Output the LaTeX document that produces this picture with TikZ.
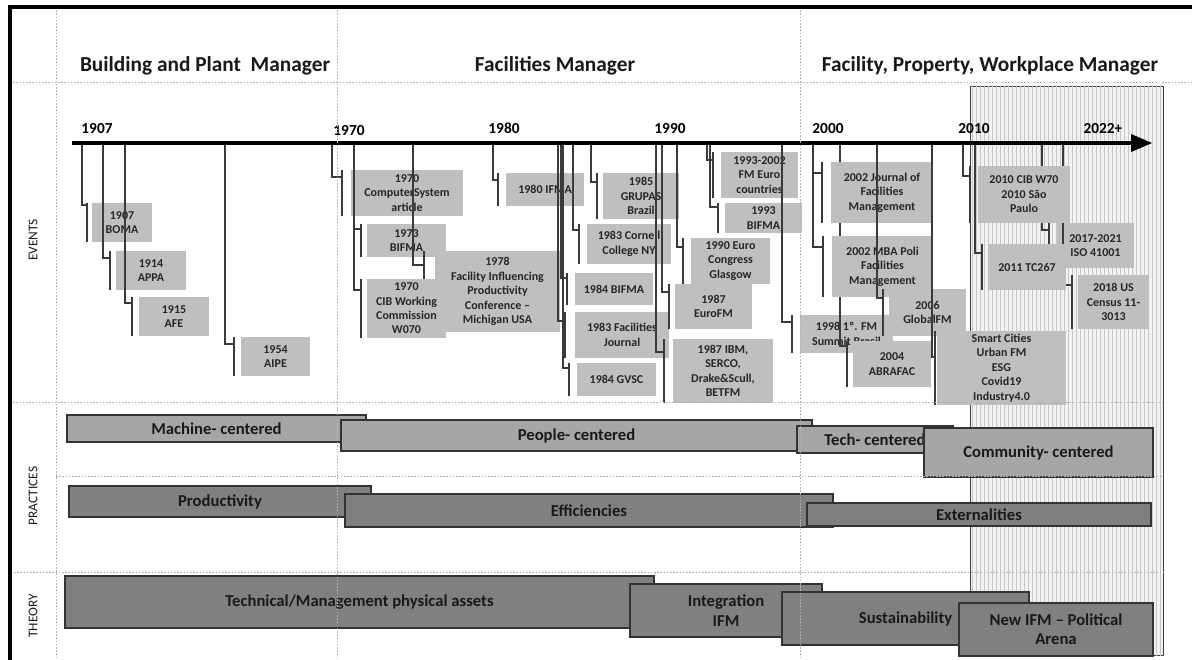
\documentclass[tikz,border=0pt]{standalone}
\usepackage{fontspec}
\setmainfont{Carlito}
\usetikzlibrary{patterns}
\definecolor{evbox}{HTML}{BFBFBF}
\definecolor{pracA}{HTML}{A6A6A6}
\definecolor{pracB}{HTML}{808080}
\definecolor{txt}{HTML}{262626}
\definecolor{conn}{HTML}{3A3A3A}
\tikzset{
 evt/.style={fill=evbox, inner sep=0pt, outer sep=0pt, text=txt, align=center, font=\bfseries\fontsize{9}{10.8}\selectfont},
 cline/.style={draw=conn, line width=0.9pt},
 pbox/.style={draw=black!80, line width=0.8pt, inner sep=0pt, outer sep=0pt, align=center, text=black!90, font=\bfseries\fontsize{12.5}{14.5}\selectfont},
 prA/.style={pbox, fill=pracA},
 prB/.style={pbox, fill=pracB},
 gridl/.style={draw=gray!60, line width=0.5pt, dash pattern=on 1.2pt off 1.2pt},
 hdr/.style={font=\bfseries\fontsize{16}{19}\selectfont, anchor=base, text=black!90, inner sep=0pt},
 yr/.style={font=\bfseries\fontsize{11.5}{13}\selectfont, anchor=base, inner sep=0pt},
 side/.style={font=\fontsize{10}{12}\selectfont, rotate=90, text=black!90},
}
% name, x1, y1, x2, y2, stem x, tick y, bar x, text
\newcommand\mkevt[9]{%
  \node[evt, minimum width={(#4-#2)*0.75pt}, minimum height={(#5-#3)*0.75pt}] (#1) at ({(#2+#4)/2},{(#3+#5)/2}) {#9};
  \coordinate (#1-t) at (#6,143);
  \coordinate (#1-k) at (#8,#7);
  \draw[cline] (#1-t) |- (#1-k);
  \draw[cline] (#1-k |- #1.north) -- (#1-k |- #1.south);
}
% name, style, x1, y1, x2, y2, text
\newcommand\mkphase[7]{%
  \node[#2, minimum width={(#5-#3)*0.75pt}, minimum height={(#6-#4)*0.75pt}] (#1) at ({(#3+#5)/2},{(#4+#6)/2}) {#7};
}
\begin{document}
\begin{tikzpicture}[x=0.75pt, y=-0.75pt]
\useasboundingbox (0,0) rectangle (1192,660);
% recent period shading
\path[fill=black!5, draw=black!75, line width=0.6pt] (970,86) rectangle (1163,655);
\path[pattern=vertical lines, pattern color=black!22] (970,86) rectangle (1163,655);
% events
\mkevt{boma}{92}{203}{152}{242}{82}{205}{87}{1907\\BOMA}
\mkevt{appa}{116}{251}{186}{290}{103}{258}{110}{1914\\APPA}
\mkevt{afe}{139}{297}{209}{336}{125}{303}{132}{1915\\AFE}
\mkevt{aipe}{241}{337}{310}{376}{225}{344}{234}{1954\\AIPE}
\mkevt{comp}{351}{170}{463}{216}{332}{177}{342}{1970\\ComputerSystem\\article}
\mkevt{bifmaA}{367}{224}{446}{257}{354}{229}{361}{1973\\BIFMA}
\mkevt{mich}{435}{251}{560}{332}{413}{265}{424}{1978\\Facility Influencing\\Productivity\\Conference --\\Michigan USA}
\mkevt{cib}{367}{279}{446}{338}{354}{290}{361}{1970\\CIB Working\\Commission\\W070}
\mkevt{ifma}{506}{173}{584}{206}{493}{180}{498}{1980 IFMA}
\mkevt{grupas}{603}{173}{679}{219}{591}{182}{597}{1985\\GRUPAS\\Brazil}
\mkevt{cornell}{587}{224}{671}{264}{573}{230}{579}{1983 Cornell\\College NY}
\mkevt{bifmaB}{575}{273}{653}{305}{561}{278}{567}{1984 BIFMA}
\mkevt{facj}{575}{312}{669}{358}{558}{321}{565}{1983 Facilities\\Journal}
\mkevt{gvsc}{577}{363}{656}{396}{563}{368}{569}{1984 GVSC}
\mkevt{ibm}{673}{339}{773}{403}{656}{352}{664}{1987 IBM,\\SERCO,\\Drake\&Scull,\\BETFM}
\mkevt{eurofm}{675}{284}{752}{329}{662}{292}{669}{1987\\EuroFM}
\mkevt{glasgow}{691}{238}{770}{284}{677}{247}{683}{1990 Euro\\Congress\\Glasgow}
\mkevt{fmeuro}{721}{152}{798}{198}{707}{160}{713}{1993-2002\\FM Euro\\countries}
\mkevt{bifmaC}{725}{203}{802}{233}{710}{207}{718}{1993\\BIFMA}
\mkevt{summit}{800}{315}{893}{353}{782}{322}{792}{1998 1º. FM\\Summit Brasil}
\mkevt{abrafac}{853}{341}{931}{387}{840}{346}{847}{2004\\ABRAFAC}
\mkevt{jfm}{831}{162}{933}{223}{813}{173}{822}{2002 Journal of\\Facilities\\Management}
\mkevt{mba}{832}{236}{933}{297}{813}{247}{823}{2002 MBA Poli\\Facilities\\Management}
\mkevt{globalfm}{889}{289}{966}{336}{877}{298}{883}{2006\\GlobalFM}
\mkevt{smart}{937}{331}{1066}{405}{932}{357}{935}{Smart Cities\\Urban FM\\ESG\\Covid19\\Industry4.0}
\mkevt{iso}{1057}{223}{1134}{268}{1042}{230}{1049}{2017-2021\\ISO 41001}
\mkevt{census}{1078}{275}{1149}{329}{1063}{285}{1072}{2018 US\\Census 11-\\3013}
\mkevt{cibw}{978}{166}{1070}{223}{963}{176}{970}{2010 CIB W70\\2010 São\\Paulo}
\mkevt{tc}{988}{244}{1066}{290}{975}{253}{982}{2011 TC267}
% timeline
\coordinate (tl-a) at (72,143);
\coordinate (tl-b) at (1134,143);
\coordinate (tl-tip) at (1152,143);
\draw[line width=3.2pt] (tl-a) -- (tl-b);
\fill (tl-tip) -- ([shift={(-21,-9)}]tl-tip) -- ([shift={(-21,9)}]tl-tip) -- cycle;
% years
\node[yr] (y1907) at (97,133) {1907};
\node[yr] (y1970) at (349,135) {1970};
\node[yr] (y1980) at (504,133) {1980};
\node[yr] (y1990) at (670,133) {1990};
\node[yr] (y2000) at (828,133) {2000};
\node[yr] (y2010) at (974,133) {2010};
\node[yr] (y2022) at (1103,133) {2022+};
% headers
\node[hdr] (h1) at (205,72) {Building and Plant~ Manager};
\node[hdr] (h2) at (555,72) {Facilities Manager};
\node[hdr] (h3) at (990,72) {Facility, Property, Workplace Manager};
% side labels
\node[side] (lev) at (33,240) {EVENTS};
\node[side] (lpr) at (33,496) {PRACTICES};
\node[side] (lth) at (33,616) {THEORY};
% practices row 1
\mkphase{mach}{prA}{67}{415}{366}{442}{Machine- centered}
\mkphase{people}{prA}{341}{420}{812}{451}{People- centered}
\mkphase{techc}{prA}{797}{426}{953}{453}{Tech- centered}
\mkphase{comm}{prA}{924}{428}{1153}{477}{Community- centered}
% practices row 2
\mkphase{prod}{prB}{69}{486}{371}{517}{Productivity}
\mkphase{effi}{prB}{345}{494}{833}{527}{Efficiencies}
\mkphase{exter}{prB}{807}{503}{1151}{526}{Externalities}
% theory
\mkphase{techm}{prB}{65}{576}{654}{628}{Technical/Management physical assets}
\mkphase{integ}{prB}{630}{584}{822}{637}{Integration\\IFM}
\mkphase{sust}{prB}{782}{592}{1029}{645}{Sustainability}
\mkphase{newifm}{prB}{959}{603}{1153}{656}{New IFM -- Political\\Arena}
% grid
\draw[gridl] (10,82) -- (1192,82);
\draw[gridl] (10,402) -- (1163,402);
\draw[gridl] (56,476) -- (1163,476);
\draw[gridl] (14,572) -- (1163,572);
\draw[gridl] (56,7) -- (56,660);
\draw[gridl] (337,7) -- (337,660);
\draw[gridl] (800,7) -- (800,660);
% frame
\draw[line width=2.4pt] (1192,7) -- (10,7) -- (10,660);
\end{tikzpicture}
\end{document}
